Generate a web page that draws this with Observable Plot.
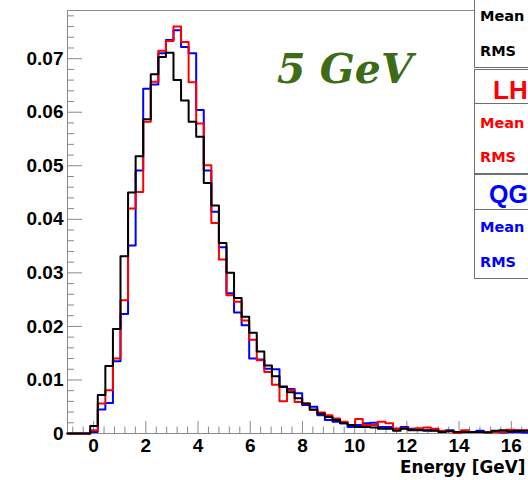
<!DOCTYPE html>
<html><head><meta charset="utf-8">
<script src="https://cdn.jsdelivr.net/npm/d3@7"></script>
<script src="https://cdn.jsdelivr.net/npm/@observablehq/plot@0.6"></script>
<style>
html,body{margin:0;padding:0;background:#fff;overflow:hidden}
#wrap{position:relative;width:528px;height:480px;overflow:hidden;background:#fff}
</style></head><body><div id="wrap"></div>
<script>
// Histogram binning (energy in GeV)
const binStart = -1;
const binWidth = 0.29;

// Normalised bin contents
const blackValues = [0,0,0,0.0014,0.0072,0.0126,0.0195,0.0331,0.0450,0.0518,
  0.0587,0.0671,0.0703,0.0711,0.0660,0.0622,0.0582,0.0554,0.0468,0.0426,
  0.0356,0.0300,0.0253,0.0218,0.0188,0.0153,0.0127,0.0107,0.0088,0.0077,
  0.0066,0.0056,0.0045,0.0037,0.0031,0.0025,0.0019,0.0016,0.0012,0.0012,
  0.0011,0.0009,0.0009,0.0005,0.0009,0.0006,0.0006,0.0006,0.0005,0.0003,
  0.0004,0.0003,0.0003,0.0003,0.0003,0.0002,0.0005,0.0006,0.0004,0.0005,
  0.0005,0.0004];
const redValues = [0,0,0,0.0006,0.0056,0.0081,0.0140,0.0249,0.0420,0.0451,
  0.0582,0.0657,0.0715,0.0733,0.0760,0.0731,0.0656,0.0579,0.0501,0.0393,
  0.0325,0.0258,0.0246,0.0211,0.0175,0.0137,0.0115,0.0091,0.0060,0.0081,
  0.0059,0.0056,0.0044,0.0039,0.0034,0.0028,0.0022,0.0016,0.0027,0.0016,
  0.0016,0.0022,0.0019,0.0009,0.0010,0.0007,0.0010,0.0011,0.0009,0.0005,
  0.0004,0.0001,0.0006,0.0003,0.0003,0.0003,0.0003,0.0003,0.0007,0.0006,
  0.0006,0.0004];
const blueValues = [0,0,0,0.0003,0.0045,0.0057,0.0135,0.0223,0.0351,0.0491,
  0.0644,0.0652,0.0710,0.0735,0.0753,0.0722,0.0710,0.0604,0.0491,0.0414,
  0.0348,0.0262,0.0226,0.0202,0.0140,0.0138,0.0121,0.0120,0.0087,0.0083,
  0.0075,0.0053,0.0050,0.0034,0.0025,0.0022,0.0019,0.0012,0.0016,0.0019,
  0.0020,0.0012,0.0012,0.0009,0.0012,0.0009,0.0007,0.0005,0.0006,0.0004,
  0.0006,0.0003,0.0003,0.0003,0.0005,0.0003,0.0003,0.0002,0.0003,0.0003,
  0.0002,0.0002];

// Axis ticks and labels
const yMajorTicks = [0,0.01,0.02,0.03,0.04,0.05,0.06,0.07];
const yTickLabels = ["0","0.01","0.02","0.03","0.04","0.05","0.06","0.07"];
const xMajorTicks = [0,2,4,6,8,10,12,14,16,18];
const xLabelTicks = [0,2,4,6,8,10,12,14,16];
const xTickLabels = ["0","2","4","6","8","10","12","14","16"];
const xAxisTitle = "Energy [GeV]";
const plotTitle = "5 GeV";
const statNames = ["LH","QG"];
const statRows = ["Mean","RMS"];

const yLabelMap = new Map(yMajorTicks.map((t,i)=>[t,yTickLabels[i]]));
const xLabelMap = new Map(xLabelTicks.map((t,i)=>[t,xTickLabels[i]]));
const yMinor = d3.range(0,40).filter(i=>i%5!==0).map(i=>+(i*0.002).toFixed(4));
const xMinor = d3.range(-2,46).filter(i=>i%5!==0).map(i=>+(i*0.4).toFixed(2));

function steps(vals){
  const pts = vals.map((v,i)=>({x: binStart + i*binWidth, y: v}));
  pts.push({x: binStart + vals.length*binWidth, y: vals[vals.length-1]});
  return pts;
}

const tickStroke = "#8a8a8a";
const chart = Plot.plot({
  width: 600, height: 480,
  marginLeft: 67, marginRight: 37, marginTop: 10, marginBottom: 47,
  style: {background: "white", maxWidth: "none", overflow: "visible"},
  x: {domain: [-1, 18], label: null},
  y: {domain: [0, 0.079], label: null},
  marks: [
    Plot.frame({stroke: tickStroke}),
    Plot.axisY(yMinor, {tickSize: -7, tickFormat: () => "", stroke: tickStroke, label: null}),
    Plot.axisY(yMajorTicks, {tickSize: -15, tickFormat: () => "", stroke: tickStroke, label: null}),
    Plot.axisY(yMajorTicks, {tickSize: 0, tickPadding: 4, tickFormat: d => yLabelMap.get(d),
      fontSize: 19, fontWeight: "bold", fontFamily: "Liberation Sans", fill: "black", label: null}),
    Plot.axisX(xMinor, {tickSize: -6.5, tickFormat: () => "", stroke: tickStroke, label: null}),
    Plot.axisX(xMajorTicks, {tickSize: -12, tickFormat: () => "", stroke: tickStroke, label: null}),
    Plot.axisX(xLabelTicks, {tickSize: 0, tickPadding: 5, tickFormat: d => xLabelMap.get(d),
      fontSize: 19, fontWeight: "bold", fontFamily: "Liberation Sans", fill: "black", label: null}),
    Plot.line(steps(blueValues), {x: "x", y: "y", curve: "step-after", stroke: "#0000ff", strokeWidth: 2}),
    Plot.line(steps(redValues), {x: "x", y: "y", curve: "step-after", stroke: "#ff0000", strokeWidth: 2}),
    Plot.line(steps(blackValues), {x: "x", y: "y", curve: "step-after", stroke: "#000000", strokeWidth: 2})
  ]
});
chart.style.maxWidth = "none";
document.getElementById("wrap").appendChild(chart);

const svg = d3.select(chart);
const ann = svg.append("g").attr("text-anchor", "start");
// x-axis title
ann.append("text").attr("x", 400).attr("y", 473).text(xAxisTitle)
  .attr("font-family", "DejaVu Sans").attr("font-weight", "bold").attr("font-size", 16.8).attr("fill", "black");
// in-plot title
ann.append("text").attr("x", 277).attr("y", 83).text(plotTitle)
  .attr("font-family", "DejaVu Serif").attr("font-weight", "bold").attr("font-style", "italic")
  .attr("font-size", 41).attr("fill", "#3d6b17");

// statistics boxes
const boxX = 474, boxW = 150;
const boxes = [[-20, 87], [69, 34], [103, 70], [174, 35], [209, 69]];
boxes.forEach(([y, h]) => ann.append("rect").attr("x", boxX + 0.5).attr("y", y + 0.5).attr("width", boxW).attr("height", h)
  .attr("fill", "white").attr("stroke", "#6f6f6f").attr("stroke-width", 1));
const rowText = (txt, y, color) => ann.append("text").attr("x", 480).attr("y", y).text(txt)
  .attr("font-family", "DejaVu Sans").attr("font-weight", "bold").attr("font-size", 14.5).attr("fill", color);
rowText(statRows[0], 20.7, "black"); rowText(statRows[1], 56, "black");
rowText(statRows[0], 128, "#ff0000"); rowText(statRows[1], 162, "#ff0000");
rowText(statRows[0], 232, "#0000ff"); rowText(statRows[1], 267, "#0000ff");
ann.append("text").attr("x", 493).attr("y", 99.3).text(statNames[0])
  .attr("font-family", "Liberation Sans").attr("font-weight", "bold").attr("font-size", 26).attr("fill", "#ff0000");
ann.append("text").attr("x", 489).attr("y", 203).text(statNames[1])
  .attr("font-family", "Liberation Sans").attr("font-weight", "bold").attr("font-size", 25).attr("fill", "#0000ff");
</script></body></html>
